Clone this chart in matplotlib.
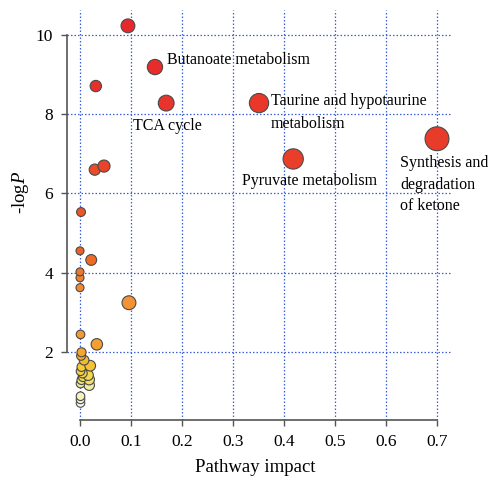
import numpy as np
import matplotlib
matplotlib.use("Agg")
import matplotlib.pyplot as plt
from matplotlib.colors import LinearSegmentedColormap

plt.rcParams['font.family'] = ['Liberation Serif', 'DejaVu Serif']
plt.rcParams['mathtext.fontset'] = 'custom'
plt.rcParams['mathtext.rm'] = 'Liberation Serif'
plt.rcParams['mathtext.it'] = 'Liberation Serif:italic'

# pathway impact / -logP
impact = [0.094, 0.147, 0.031, 0.169, 0.351, 0.418, 0.700, 0.029, 0.047, 0.002,
          0.000, 0.022, 0.000, 0.000, 0.000, 0.096, 0.001, 0.033, 0.003, 0.002,
          0.008, 0.020, 0.003, 0.001, 0.005, 0.016, 0.006, 0.018, 0.003, 0.018,
          0.001, 0.001, 0.001, 0.001]
logp = [10.23, 9.19, 8.71, 8.28, 8.28, 6.87, 7.38, 6.60, 6.69, 5.53,
        4.55, 4.32, 4.02, 3.87, 3.62, 3.24, 2.44, 2.19, 1.99, 1.90,
        1.79, 1.65, 1.62, 1.51, 1.46, 1.41, 1.37, 1.30, 1.29, 1.16,
        1.20, 0.88, 0.80, 0.71]

labels = {
    1: "Butanoate metabolism",
    3: "TCA cycle",
    4: "Taurine and hypotaurine\nmetabolism",
    5: "Pyruvate metabolism",
    6: "Synthesis and\ndegradation\nof ketone",
}
# label offsets (points) from the circle centre
offsets = {1: (8.6, 5), 3: (-24, -16.5), 4: (8.6, -6.8), 5: (-36.7, -15.8), 6: (-26.6, -33.2)}
spacing = {4: 1.56, 6: 1.46}

x = np.array(impact)
y = np.array(logp)

# colour by rank of -logP (heat colours: red -> yellow -> white)
cmap = LinearSegmentedColormap.from_list("heat", [
    (0.00, "#E8292B"), (0.22, "#E9442A"), (0.33, "#EE6A26"), (0.45, "#F39234"),
    (0.55, "#F3A830"), (0.65, "#F5C832"), (0.78, "#F2DC50"), (0.90, "#F0EC98"),
    (1.00, "#FAFAF2")])
rank = np.argsort(np.argsort(-y))
cols = cmap(rank / (len(y) - 1))

# circle radius in px grows with impact
r_px = 4 + 9.5 * np.sqrt(x)
sizes = (2 * r_px * 0.72) ** 2

fig = plt.figure(figsize=(4.89, 4.83), dpi=100)
ax = fig.add_axes([67/489, 63/483, (452-67)/489, (420-10)/483])

order = np.argsort(y)
ax.scatter(x[order], y[order], s=sizes[order], c=cols[order],
           edgecolors="#4a4a4a", linewidths=0.8, zorder=3)

for i, txt in labels.items():
    ax.annotate(txt, xy=(x[i], y[i]), xytext=offsets[i], textcoords="offset points",
                ha="left", va="center", fontsize=11.5, linespacing=spacing.get(i, 1.2),
                zorder=4)

ax.set_xlim(-0.0255, 0.7294)
ax.set_ylim(0.28, 10.63)
ax.set_xticks(np.arange(0, 0.71, 0.1))
ax.set_xticklabels(["%.1f" % v for v in np.arange(0, 0.71, 0.1)])
ax.set_yticks([2, 4, 6, 8, 10])

ax.grid(True, color="#3a5fd8", linestyle=(0, (1.2, 1.6)), linewidth=0.9)
ax.set_axisbelow(True)

for s in ["top", "right"]:
    ax.spines[s].set_visible(False)
ax.spines["left"].set_bounds(2, 10)
ax.spines["bottom"].set_bounds(0, 0.7)
for s in ["left", "bottom"]:
    ax.spines[s].set_color("#555555")
    ax.spines[s].set_linewidth(1.2)

ax.tick_params(direction="out", length=4, width=1.0, color="#555555",
               labelsize=12.5, pad=6)

ax.set_xlabel("Pathway impact", fontsize=13.5, va="center")
ax.set_ylabel(r"-log$\it{P}$", fontsize=13.5, va="center")
ax.xaxis.set_label_coords(0.488, -0.115)
ax.yaxis.set_label_coords(-0.12, 0.554)

fig.savefig("out.png", dpi=100)
